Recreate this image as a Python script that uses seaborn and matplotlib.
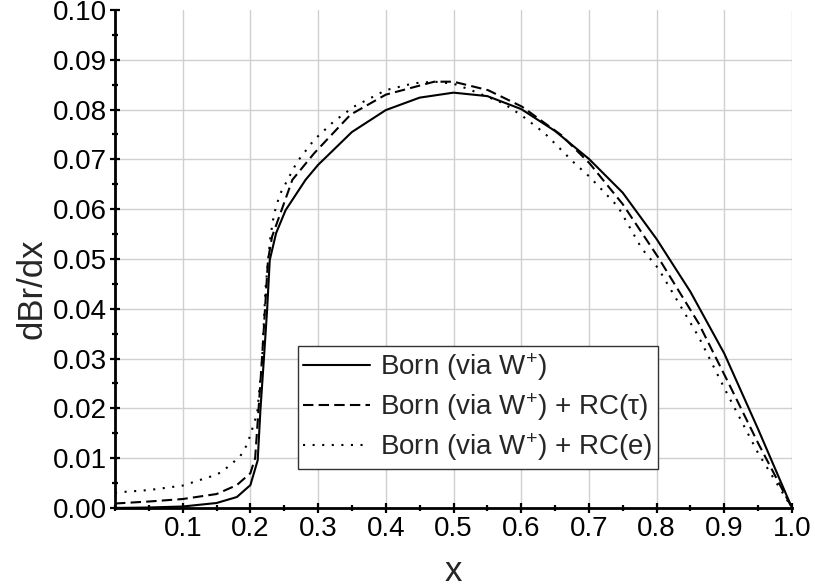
import numpy as np
import pandas as pd
import matplotlib
matplotlib.use("Agg")
import matplotlib.pyplot as plt
import seaborn as sns
from matplotlib.ticker import MultipleLocator, FormatStrFormatter

# ---- data ----
born_x = [0.0, 0.05, 0.1, 0.15, 0.18, 0.2, 0.2108, 0.2148, 0.2198, 0.2247, 0.2286,
          0.238, 0.252, 0.2815, 0.3, 0.35, 0.4, 0.45, 0.5, 0.55, 0.6, 0.65, 0.7,
          0.75, 0.8, 0.85, 0.9, 0.95, 1.0]
born_y = [0.0, 0.0001, 0.0003, 0.001, 0.0022, 0.0046, 0.0096, 0.0197, 0.0297, 0.0398, 0.0498,
          0.0552, 0.0598, 0.0659, 0.0689, 0.0755, 0.0799, 0.0824, 0.0834, 0.0827, 0.0801, 0.0757, 0.0701,
          0.0633, 0.0540, 0.0434, 0.0310, 0.0158, 0.0]

rct_x = [0.0, 0.05, 0.1, 0.15, 0.18, 0.2, 0.207, 0.212, 0.217, 0.2215, 0.226, 0.232,
         0.2444, 0.262, 0.294, 0.348, 0.4, 0.4716, 0.5, 0.551, 0.601, 0.659, 0.701,
         0.75, 0.802, 0.862, 0.904, 0.95, 1.0]
rct_y = [0.0009, 0.0013, 0.0018, 0.0028, 0.0046, 0.0070, 0.0100, 0.0197, 0.0297, 0.0398, 0.0498, 0.0545,
         0.0592, 0.0659, 0.0712, 0.0790, 0.0830, 0.0856, 0.0856, 0.0839, 0.0806, 0.0749, 0.0692,
         0.0610, 0.0504, 0.0371, 0.0257, 0.0130, 0.0]

rce_x = [0.0, 0.05, 0.1, 0.141, 0.156, 0.17, 0.185, 0.195, 0.2, 0.21, 0.2123, 0.2173, 0.2222,
         0.2257, 0.2296, 0.2346, 0.2395, 0.2444, 0.269, 0.294, 0.323, 0.353, 0.4, 0.442, 0.4716,
         0.5, 0.526, 0.573, 0.601, 0.635, 0.679, 0.701, 0.743, 0.778, 0.8025, 0.862, 0.904, 0.95, 1.0]
rce_y = [0.0031, 0.0036, 0.0045, 0.0063, 0.0071, 0.0086, 0.0104, 0.0127, 0.0147, 0.0190, 0.0223, 0.0297, 0.0438,
         0.0491, 0.0545, 0.0588, 0.0612, 0.0632, 0.0695, 0.0739, 0.0776, 0.0806, 0.0839, 0.0853, 0.0856,
         0.0852, 0.0839, 0.0813, 0.0788, 0.0752, 0.0692, 0.0665, 0.0605, 0.0521, 0.0481, 0.0344, 0.0230, 0.0110, 0.0]

labels = ["Born (via W$^{+}$)", "Born (via W$^{+}$) + RC(τ)", "Born (via W$^{+}$) + RC(e)"]
x_ticks = [0.1, 0.2, 0.3, 0.4, 0.5, 0.6, 0.7, 0.8, 0.9, 1.0]
y_ticks = [0.0, 0.01, 0.02, 0.03, 0.04, 0.05, 0.06, 0.07, 0.08, 0.09, 0.10]

sns.set_theme(style="white")
plt.rcParams['font.family'] = ['Liberation Sans', 'DejaVu Sans']
plt.rcParams['mathtext.fontset'] = 'custom'
plt.rcParams['mathtext.rm'] = 'Liberation Sans'
plt.rcParams['mathtext.it'] = 'Liberation Sans:italic'
plt.rcParams['mathtext.default'] = 'regular'

fig = plt.figure(figsize=(8.15, 5.87), dpi=100)
ax = fig.add_axes([0.1411, 0.1346, 0.8307, 0.8484])

styles = ['-', (0, (5, 2.5)), (0, (1, 3.6))]
series = [(born_x, born_y), (rct_x, rct_y), (rce_x, rce_y)]
for (xs, ys), lab, ls in zip(series, labels, styles):
    df = pd.DataFrame({"x": xs, "y": ys})
    sns.lineplot(data=df, x="x", y="y", ax=ax, color="black", linewidth=1.5,
                 linestyle=ls, label=lab, errorbar=None, sort=False)

ax.set_xlim(0, 1.0)
ax.set_ylim(0, 0.10)
ax.set_xticks(x_ticks)
ax.set_yticks(y_ticks)
ax.xaxis.set_minor_locator(MultipleLocator(0.05))
ax.yaxis.set_minor_locator(MultipleLocator(0.005))
ax.xaxis.set_major_formatter(FormatStrFormatter('%.1f'))
ax.yaxis.set_major_formatter(FormatStrFormatter('%.2f'))

ax.grid(True, which='major', color='#d0d0d0', linewidth=1.0)
ax.set_axisbelow(True)
ax.yaxis.get_gridlines()[-1].set_visible(False)

for s in ['top', 'right']:
    ax.spines[s].set_visible(False)
for s in ['left', 'bottom']:
    ax.spines[s].set_linewidth(2.0)
    ax.spines[s].set_color('black')

ax.tick_params(which='major', direction='inout', length=7, width=1.6, colors='black',
               labelsize=20, pad=2)
ax.tick_params(which='minor', direction='inout', length=5, width=1.6, colors='black')
ax.tick_params(axis='x', which='both', bottom=True)
ax.tick_params(axis='y', which='both', left=True)

ax.set_xlabel("x", fontsize=25)
ax.set_ylabel("dBr/dx", fontsize=25)
ax.xaxis.set_label_coords(0.5, -0.094)
ax.yaxis.set_label_coords(-0.098, 0.44)

leg = ax.legend(loc='upper left', bbox_to_anchor=(0.27, 0.326), fontsize=20,
                frameon=True, fancybox=False, edgecolor='#333333', framealpha=1,
                handlelength=2.4, handletextpad=0.35, borderpad=0.2,
                labelspacing=0.3, borderaxespad=0)
leg.get_frame().set_linewidth(1.0)

fig.savefig("out.png", dpi=100, facecolor='white')
